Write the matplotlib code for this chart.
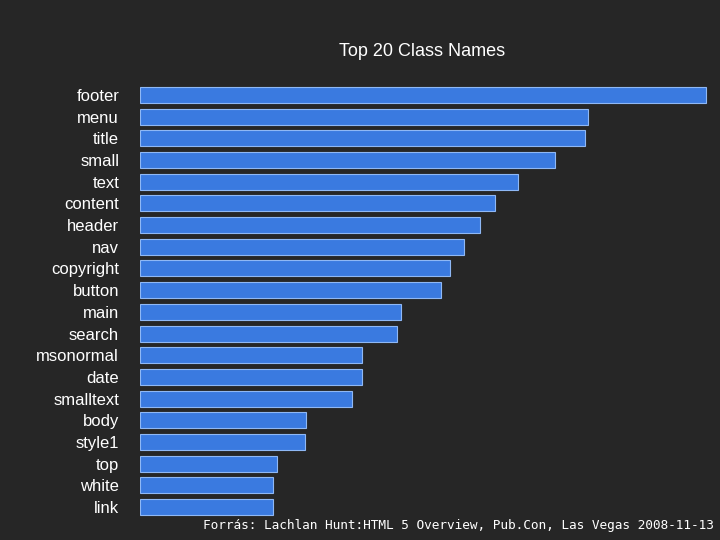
import matplotlib
matplotlib.use("Agg")
import matplotlib.pyplot as plt

categories = ["footer", "menu", "title", "small", "text", "content", "header", "nav",
              "copyright", "button", "main", "search", "msonormal", "date", "smalltext",
              "body", "style1", "top", "white", "link"]
values = [566, 448, 445, 415, 378, 355, 340, 324, 310, 301, 261, 257, 222, 222, 212,
          166, 165, 137, 133, 133]

fig = plt.figure(figsize=(7.2, 5.4), dpi=100)
fig.patch.set_facecolor("#262626")
ax = fig.add_axes([140/720, 1-518/540, 572/720, 434/540])
ax.set_facecolor("#262626")
y = list(range(len(categories)))
ax.barh(y, values, height=0.74, color="#3a7ae0", edgecolor="#8fb8f5", linewidth=0.8)
ax.set_ylim(len(categories) - 0.5, -0.5)
ax.set_xlim(0, 572)
ax.set_yticks(y)
ax.set_yticklabels(categories, color="white", fontsize=12, family="Liberation Sans")
ax.tick_params(axis="y", length=0, pad=15)
ax.set_xticks([])
for s in ax.spines.values():
    s.set_visible(False)
fig.text(422/720, 1-52/540, "Top 20 Class Names", color="white", fontsize=13,
         ha="center", va="center", family="Liberation Sans")
fig.text(714/720, 1-525/540, "Forrás: Lachlan Hunt:HTML 5 Overview, Pub.Con, Las Vegas 2008-11-13",
         color="white", fontsize=9.2, ha="right", va="center", family="DejaVu Sans Mono")
fig.savefig("out.png", dpi=100, facecolor=fig.get_facecolor())
